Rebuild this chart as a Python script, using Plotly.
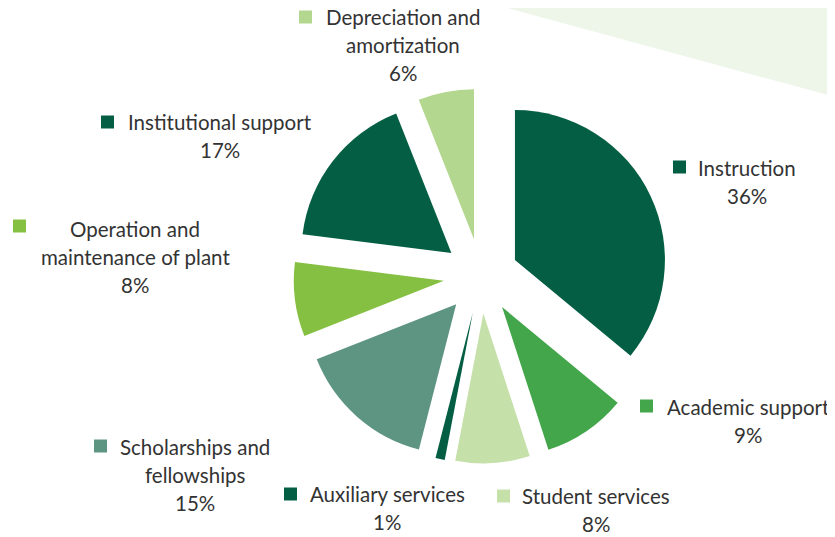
import plotly.graph_objects as go

# ---- data ----
labels = ["Instruction", "Academic support", "Student services", "Auxiliary services",
          "Scholarships and fellowships", "Operation and maintenance of plant",
          "Institutional support", "Depreciation and amortization"]
values = [36, 9, 8, 1, 15, 8, 17, 6]
label_lines = [["Instruction"], ["Academic support"], ["Student services"], ["Auxiliary services"],
               ["Scholarships and", "fellowships"], ["Operation and", "maintenance of plant"],
               ["Institutional support"], ["Depreciation and", "amortization"]]
colors = ["#045E43", "#43A64A", "#C5E0A9", "#045E43", "#5E9482", "#86C043", "#045E43", "#B3D78F"]

W, H = 835, 537
OFF = 8  # page body margin in the browser
# label layout (pixel positions in the window: text centre x, first line y, square left x, square y)
label_pos = [(747, 168, 673, 167), (748, 407, 640, 406), (596, 496, 497, 496), (387, 494, 284, 494),
             (195, 447, 94, 446), (135, 229, 13, 226), (220, 122, 101, 122), (403, 17, 299, 17)]
LINE = 28
FONT = dict(family="Lato, 'Open Sans', sans-serif", size=20.5, color="#333333")

cx, cy, r, pull = 481, 276, 150, 0.25
half = r * (1 + pull)


def px(x):
    return (x - OFF) / W


def py(y):
    return 1 - (y - OFF) / H


fig = go.Figure(go.Pie(
    labels=labels, values=values, sort=False, direction="clockwise", rotation=0,
    marker=dict(colors=colors, line=dict(width=0)), pull=[pull] * len(values),
    textinfo="none", hoverinfo="label+percent", showlegend=False,
    domain=dict(x=[px(cx - half), px(cx + half)], y=[py(cy + half), py(cy - half)]),
))

annotations = []
shapes = [dict(type="path", xref="paper", yref="paper", layer="below",
               path=f"M {px(478)} {py(0)} L {px(850)} {py(0)} L {px(850)} {py(101)} Z",
               fillcolor="#EDF6E9", line=dict(width=0))]
for lines, v, col, (tx, ty, sx, sy) in zip(label_lines, values, colors, label_pos):
    for i, t in enumerate(lines + [f"{v}%"]):
        annotations.append(dict(x=px(tx), y=py(ty + i * LINE), xref="paper", yref="paper",
                                text=t, showarrow=False, xanchor="center", yanchor="middle", font=FONT))
    shapes.append(dict(type="rect", xref="paper", yref="paper",
                       x0=px(sx), x1=px(sx + 13), y0=py(sy + 6.5), y1=py(sy - 6.5),
                       fillcolor=col, line=dict(width=0)))

fig.update_layout(width=W, height=H, margin=dict(l=0, r=0, t=0, b=0),
                  paper_bgcolor="white", plot_bgcolor="white",
                  annotations=annotations, shapes=shapes)
fig.write_html("out.html")
